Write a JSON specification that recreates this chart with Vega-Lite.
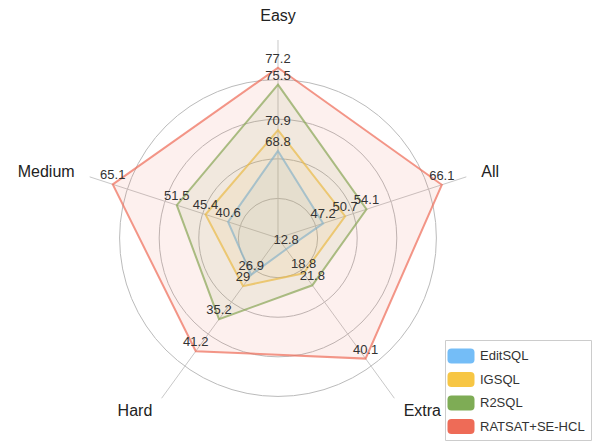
{
  "$schema": "https://vega.github.io/schema/vega-lite/v6.json",
  "width": 593,
  "height": 444,
  "padding": 0,
  "autosize": {"type": "none"},
  "background": "white",
  "config": {"view": {"stroke": null}, "font": "Liberation Sans"},
  "datasets": {
    "axes": [
      {"axis": "Easy", "idx": 0, "min": 60, "max": 80},
      {"axis": "All", "idx": 1, "min": 40, "max": 70},
      {"axis": "Extra", "idx": 2, "min": 10, "max": 50},
      {"axis": "Hard", "idx": 3, "min": 20, "max": 50},
      {"axis": "Medium", "idx": 4, "min": 30, "max": 70}
    ],
    "levels": [{"level": 1}, {"level": 2}, {"level": 3}, {"level": 4}],
    "scores": [
      {"model": "EditSQL", "axis": "Easy", "value": 68.8},
      {"model": "EditSQL", "axis": "All", "value": 47.2},
      {"model": "EditSQL", "axis": "Extra", "value": 12.8},
      {"model": "EditSQL", "axis": "Hard", "value": 26.9},
      {"model": "EditSQL", "axis": "Medium", "value": 40.6},
      {"model": "IGSQL", "axis": "Easy", "value": 70.9},
      {"model": "IGSQL", "axis": "All", "value": 50.7},
      {"model": "IGSQL", "axis": "Extra", "value": 18.8},
      {"model": "IGSQL", "axis": "Hard", "value": 29},
      {"model": "IGSQL", "axis": "Medium", "value": 45.4},
      {"model": "R2SQL", "axis": "Easy", "value": 75.5},
      {"model": "R2SQL", "axis": "All", "value": 54.1},
      {"model": "R2SQL", "axis": "Extra", "value": 21.8},
      {"model": "R2SQL", "axis": "Hard", "value": 35.2},
      {"model": "R2SQL", "axis": "Medium", "value": 51.5},
      {"model": "RATSAT+SE-HCL", "axis": "Easy", "value": 77.2},
      {"model": "RATSAT+SE-HCL", "axis": "All", "value": 66.1},
      {"model": "RATSAT+SE-HCL", "axis": "Extra", "value": 40.1},
      {"model": "RATSAT+SE-HCL", "axis": "Hard", "value": 41.2},
      {"model": "RATSAT+SE-HCL", "axis": "Medium", "value": 65.1}
    ]
  },
  "encoding": {
    "x": {"type": "quantitative", "scale": {"domain": [-1.404, 1.591], "nice": false, "zero": false}, "axis": null},
    "y": {"type": "quantitative", "scale": {"domain": [-1.04, 1.202], "nice": false, "zero": false}, "axis": null}
  },
  "layer": [
    {
      "data": {"name": "levels"},
      "mark": {"type": "point", "shape": "circle", "filled": false, "color": "#bbbbbb", "strokeWidth": 1, "opacity": 1},
      "encoding": {
        "x": {"datum": 0, "type": "quantitative"},
        "y": {"datum": 0, "type": "quantitative"},
        "size": {"field": "level", "type": "quantitative", "scale": {"type": "pow", "exponent": 2, "domain": [0, 5], "range": [0, 156816]}, "legend": null}
      }
    },
    {
      "data": {"name": "axes"},
      "transform": [
        {"calculate": "PI/2 - datum.idx*2*PI/5", "as": "ang"},
        {"calculate": "cos(datum.ang)", "as": "ex"},
        {"calculate": "sin(datum.ang)", "as": "ey"}
      ],
      "mark": {"type": "rule", "color": "#c8c8c8", "strokeWidth": 1},
      "encoding": {
        "x": {"field": "ex", "type": "quantitative"},
        "y": {"field": "ey", "type": "quantitative"},
        "x2": {"datum": 0},
        "y2": {"datum": 0}
      }
    },
    {
      "data": {"name": "scores"},
      "transform": [
        {"lookup": "axis", "from": {"data": {"name": "axes"}, "key": "axis", "fields": ["idx", "min", "max"]}},
        {"calculate": "PI/2 - datum.idx*2*PI/5", "as": "ang"},
        {"calculate": "(datum.value - datum.min)/(datum.max - datum.min)", "as": "norm"},
        {"calculate": "datum.norm*cos(datum.ang)", "as": "px"},
        {"calculate": "datum.norm*sin(datum.ang)", "as": "py"}
      ],
      "layer": [
        {
          "mark": {"type": "line", "interpolate": "linear-closed", "strokeWidth": 2, "fillOpacity": 0.1, "strokeOpacity": 0.7},
          "encoding": {
            "x": {"field": "px", "type": "quantitative"},
            "y": {"field": "py", "type": "quantitative"},
            "order": {"field": "idx", "type": "quantitative"},
            "stroke": {"field": "model", "type": "nominal", "scale": {"domain": ["EditSQL", "IGSQL", "R2SQL", "RATSAT+SE-HCL"], "range": ["#74bdf7", "#f7c644", "#7eac55", "#ee6b57"]}, "legend": null},
            "fill": {
              "field": "model", "type": "nominal",
              "scale": {"domain": ["EditSQL", "IGSQL", "R2SQL", "RATSAT+SE-HCL"], "range": ["#74bdf7", "#f7c644", "#7eac55", "#ee6b57"]},
              "legend": {
                "title": null,
                "orient": "none",
                "legendX": 445,
                "legendY": 340,
                "padding": 6,
                "strokeColor": "#cccccc",
                "fillColor": "white",
                "symbolType": "M-0.95,-0.75 L0.95,-0.75 Q1.35,-0.75 1.35,-0.35 L1.35,0.35 Q1.35,0.75 0.95,0.75 L-0.95,0.75 Q-1.35,0.75 -1.35,0.35 L-1.35,-0.35 Q-1.35,-0.75 -0.95,-0.75 Z",
                "symbolSize": 400,
                "symbolStrokeWidth": 0,
                "symbolOpacity": 1,
                "labelOffset": 9,
                "rowPadding": 5.5,
                "labelFontSize": 13,
                "labelFont": "Liberation Sans",
                "labelColor": "#333333",
                "encode": {
                  "symbols": {
                    "update": {
                      "fill": {"scale": "fill", "field": "value"},
                      "fillOpacity": {"value": 1},
                      "strokeWidth": {"value": 0},
                      "opacity": {"value": 1}
                    }
                  }
                }
              }
            }
          }
        },
        {
          "mark": {"type": "text", "fontSize": 13, "color": "#333333", "dy": -9},
          "encoding": {
            "x": {"field": "px", "type": "quantitative"},
            "y": {"field": "py", "type": "quantitative"},
            "text": {"field": "value", "type": "nominal"}
          }
        }
      ]
    },
    {
      "data": {"name": "axes"},
      "transform": [
        {"calculate": "PI/2 - datum.idx*2*PI/5", "as": "ang"},
        {"calculate": "1.08*cos(datum.ang)", "as": "nx"},
        {"calculate": "1.08*sin(datum.ang)", "as": "ny"}
      ],
      "layer": [
        {
          "transform": [{"filter": "datum.axis === 'Easy'"}],
          "mark": {"type": "text", "fontSize": 16, "color": "#222222", "align": "center", "baseline": "bottom"},
          "encoding": {"x": {"field": "nx", "type": "quantitative"}, "y": {"field": "ny", "type": "quantitative"}, "text": {"field": "axis"}}
        },
        {
          "transform": [{"filter": "datum.axis === 'All' || datum.axis === 'Extra'"}],
          "mark": {"type": "text", "fontSize": 16, "color": "#222222", "align": "left", "baseline": "middle"},
          "encoding": {"x": {"field": "nx", "type": "quantitative"}, "y": {"field": "ny", "type": "quantitative"}, "text": {"field": "axis"}}
        },
        {
          "transform": [{"filter": "datum.axis === 'Medium' || datum.axis === 'Hard'"}],
          "mark": {"type": "text", "fontSize": 16, "color": "#222222", "align": "right", "baseline": "middle"},
          "encoding": {"x": {"field": "nx", "type": "quantitative"}, "y": {"field": "ny", "type": "quantitative"}, "text": {"field": "axis"}}
        }
      ]
    }
  ]
}
